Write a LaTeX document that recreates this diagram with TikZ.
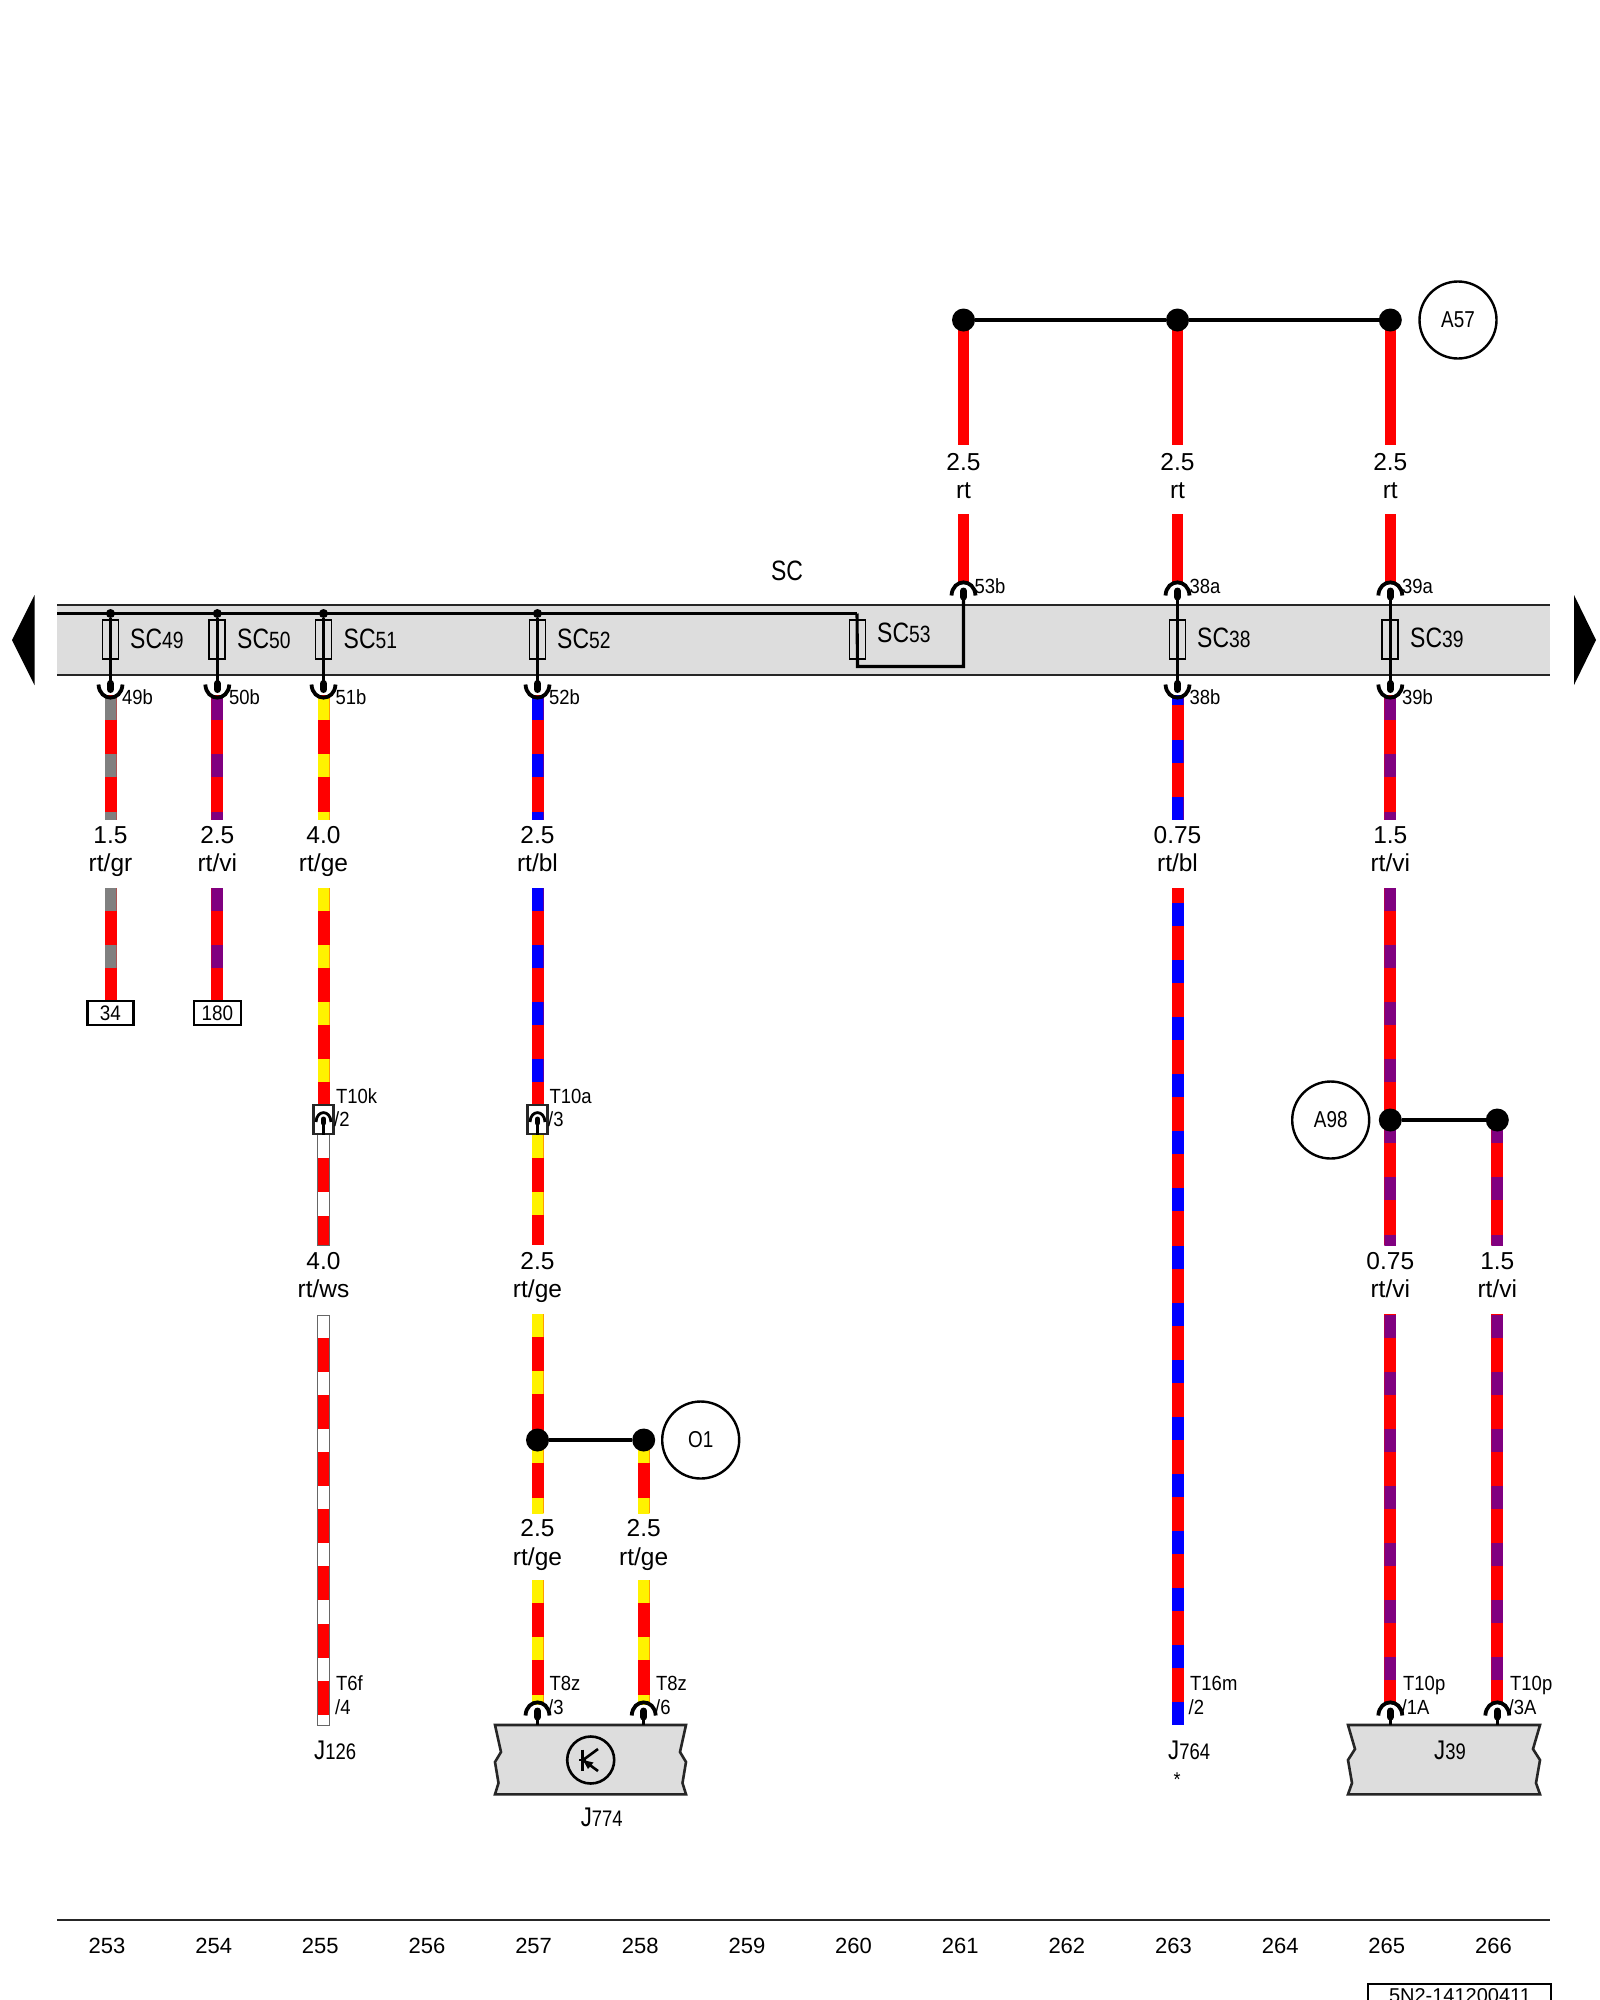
\documentclass[tikz,border=0pt]{standalone}
\usepackage{fontspec}
\setmainfont{Liberation Sans}
\newfontfamily\nf[FakeStretch=0.82]{Liberation Sans}
\newfontfamily\lf[FakeStretch=0.9]{Liberation Sans}
\newcommand{\fsz}[1]{\fontsize{#1}{#1}\selectfont}
\definecolor{barg}{HTML}{DDDDDD}
\definecolor{wvi}{HTML}{800080}
\definecolor{wgr}{HTML}{808080}
\tikzset{
  lbl/.style={inner sep=0pt,anchor=base,font=\fsz{24.5}},
  tag/.style={inner sep=0pt,anchor=base west,font=\lf\fsz{20.5}},
  sclbl/.style={inner sep=0pt,anchor=base west,font=\nf\fsz{28}},
  jlbl/.style={inner sep=0pt,anchor=base west,font=\nf\fsz{27}},
  axnum/.style={inner sep=0pt,anchor=base,font=\fsz{22}},
  fuse/.style={draw=black,line width=1.8pt,inner sep=0pt,minimum width=16pt,minimum height=39pt},
  bigdot/.style={circle,fill=black,inner sep=0pt,minimum size=23pt},
  smalldot/.style={circle,fill=black,inner sep=0pt,minimum size=9pt},
  thin wire/.style={line width=3.1pt,black},
  pinline/.style={line width=7pt,line cap=round,black},
  arcline/.style={line width=3.8pt,black},
  ringnode/.style={circle,draw=black,line width=2.4pt,fill=white,inner sep=0pt,minimum size=77pt,font=\nf\fsz{23}},
  tbox/.style={draw=black,line width=2.4pt,fill=white,inner sep=0pt,minimum height=24pt,font=\lf\fsz{21}},
  blockshape/.style={fill=barg,draw=black!85,line width=2.6pt,line join=miter},
}
\newcommand{\wire}[5]{%
  \fill[red] ({#1-6},#2) rectangle ({#1+6},#3);
  \begin{scope}
    \clip ({#1-6},#2) rectangle ({#1+6},#3);
    \foreach \s in {#5} {\fill[#4] ({#1-6},\s) rectangle ({#1+6},{\s+23});}
  \end{scope}}
\newcommand{\redwire}[3]{\fill[red] ({#1-5.5},#2) rectangle ({#1+5.5},#3);}
\newcommand{\down}[2]{% socket below the box: name, x
  \draw[arcline] ({#2-12},684.5) .. controls ({#2-11},702) and ({#2+11},702) .. ({#2+12},684.5);
  \coordinate (#1) at (#2,686);
  \draw[pinline] (#2,683.5) -- (#2,689.5);}
\newcommand{\up}[3]{% socket above: name, x, top y
  \draw[arcline] ({#2-12},{#3+13.5}) .. controls ({#2-11},{#3-4}) and ({#2+11},{#3-4}) .. ({#2+12},{#3+13.5});
  \coordinate (#1) at (#2,{#3+12});
  \draw[pinline] (#2,{#3+9}) -- (#2,{#3+15});}
\newcommand{\upsmall}[3]{% small socket inside a plug housing: name, x, top y
  \draw[line width=2.8pt,black] ({#2-7.5},{#3+10}) .. controls ({#2-7},{#3-2.5}) and ({#2+7},{#3-2.5}) .. ({#2+7.5},{#3+10});
  \coordinate (#1) at (#2,{#3+8});
  \draw[line width=5pt,line cap=round,black] (#2,{#3+7}) -- (#2,{#3+11});}
\begin{document}
\begin{tikzpicture}[x=1pt,y=-1pt]
\useasboundingbox (0,0) rectangle (1600,2000);
\clip (0,0) rectangle (1600,2000);
\fill[white] (0,0) rectangle (1600,2000);

% fuse box band
\fill[barg] (57,605) rectangle (1550,675);
\coordinate (barTL) at (57,605);
\coordinate (barTR) at (1550,605);
\coordinate (barBL) at (57,675);
\coordinate (barBR) at (1550,675);
\coordinate (busL) at (57,613.5);
\coordinate (busR) at (857,613.5);
\draw[black!85,line width=2.4pt] (barTL) -- (barTR);
\draw[black!85,line width=2.4pt] (barBL) -- (barBR);
\fill[black] (12,640) -- (34.5,595) -- (34.5,685) -- cycle;
\fill[black] (1596,640) -- (1574,595) -- (1574,685) -- cycle;
\node[inner sep=0pt,anchor=base,font=\nf\fsz{28}] (sc) at (787,580) {SC};

% wires, top group
\redwire{963.5}{320}{445}
\redwire{1177.5}{320}{445}
\redwire{1390.3}{320}{445}
\redwire{963.5}{514}{584}
\redwire{1177.5}{514}{584}
\redwire{1390.3}{514}{584}
\node[bigdot] (a1) at (963.5,320) {};
\node[bigdot] (a2) at (1177.5,320) {};
\node[bigdot] (a3) at (1390.3,320) {};
\draw[thin wire] (a1) -- (a2);
\draw[thin wire] (a2) -- (a3);
\node[ringnode] (A57) at (1458,320) {A57};
\foreach \x/\n in {963.5/t1,1177.5/t2,1390.3/t3}{
  \node[lbl] (\n a) at (\x,470) {2.5};
  \node[lbl] (\n b) at (\x,498) {rt};
}

% section 1 wires
\wire{110.5}{695}{819.5}{wgr}{697,754,811.6}
\wire{217.3}{695}{819.5}{wvi}{697,754,811.6}
\wire{323.5}{695}{819.5}{yellow}{697,754,811.6}
\wire{537.5}{695}{819.5}{blue}{697,754,811.6}
\wire{1177.5}{695}{819.5}{blue}{682,739.5,796.5}
\wire{1390.3}{695}{819.5}{wvi}{697,754,811.6}

% fuses and internal feeds
\foreach \x/\n in {110.5/f49,217.3/f50,323.5/f51,537.5/f52}{
  \node[fuse] (\n) at (\x,639.5) {};
  \node[smalldot] (\n d) at (\x,613.5) {};
  \down{\n p}{\x}
  \draw[thin wire] (\n d) -- (\n p);
}
\draw[thin wire] (busL) -- (busR);
\node[fuse] (f53) at (857.5,639.5) {};
\coordinate (c53a) at (857.5,666.5);
\coordinate (c53b) at (963.5,666.5);
\up{p53}{963.5}{582}
\draw[thin wire,line join=miter] (busR) -- (c53a) -- (c53b) -- (p53);
\foreach \x/\n in {1177.5/f38,1390.3/f39}{
  \node[fuse] (\n) at (\x,639.5) {};
  \up{\n u}{\x}{582}
  \down{\n p}{\x}
  \draw[thin wire] (\n u) -- (\n p);
}
\node[sclbl] (l49) at (130,648) {SC\fsz{23.5}49};
\node[sclbl] (l50) at (237,648) {SC\fsz{23.5}50};
\node[sclbl] (l51) at (343.5,648) {SC\fsz{23.5}51};
\node[sclbl] (l52) at (557,648) {SC\fsz{23.5}52};
\node[sclbl] (l53) at (877,642) {SC\fsz{23.5}53};
\node[sclbl] (l38) at (1197,647) {SC\fsz{23.5}38};
\node[sclbl] (l39) at (1410,647) {SC\fsz{23.5}39};
\node[tag] (s49) at (122,704) {49b};
\node[tag] (s50) at (229,704) {50b};
\node[tag] (s51) at (335.5,704) {51b};
\node[tag] (s52) at (549,704) {52b};
\node[tag] (s53) at (974.5,593) {53b};
\node[tag] (s38a) at (1189.5,593) {38a};
\node[tag] (s39a) at (1402,593) {39a};
\node[tag] (s38b) at (1189.5,704) {38b};
\node[tag] (s39b) at (1402,704) {39b};

% labels row 1
\foreach \x/\a/\b/\n in {110.5/1.5/rt\slash gr/r1,217.3/2.5/rt\slash vi/r2,323.5/4.0/rt\slash ge/r3,537.5/2.5/rt\slash bl/r4,1177.5/0.75/rt\slash bl/r5,1390.3/1.5/rt\slash vi/r6}{
  \node[lbl] (\n a) at (\x,843) {\a};
  \node[lbl] (\n b) at (\x,871) {\b};
}

% section 2 wires
\wire{110.5}{887.5}{1001}{wgr}{887.5,945}
\wire{217.3}{887.5}{1001}{wvi}{887.5,945}
\node[tbox,minimum width=46pt] (b34) at (110.5,1013) {34};
\node[tbox,minimum width=47pt] (b180) at (217.3,1013) {180};
\wire{323.5}{887.5}{1106}{yellow}{887.5,945,1002,1059}
\wire{537.5}{887.5}{1106}{blue}{887.5,945,1002,1059}
\wire{537.5}{1134}{1245}{yellow}{1135,1192}
\fill[white] (317.5,1134) rectangle (329.5,1245);
\fill[red] (317.5,1158) rectangle (329.5,1192);
\fill[red] (317.5,1215.5) rectangle (329.5,1245);
\draw[black!60,line width=.9pt] (317.5,1134) rectangle (329.5,1245);
\foreach \x/\n in {323.5/k,537.5/a}{
  \node[draw=black!85,line width=2.2pt,fill=white,inner sep=0pt,minimum width=20pt,minimum height=29pt] (box\n) at (\x,1119.5) {};
  \upsmall{u\n}{\x}{1112}
  \draw[line width=2.2pt,black] (u\n) -- (box\n.south);
}
\node[tag] (t10k) at (336,1103.5) {T10k};
\node[tag] (t10k2) at (334,1126.5) {/2};
\node[tag] (t10a) at (549.5,1103.5) {T10a};
\node[tag] (t10a2) at (548,1126.5) {/3};

% junction A98 and wires
\wire{1390.3}{887.5}{1245}{wvi}{887.5,945,1002,1059,1120,1177,1234.7}
\wire{1497.3}{1120}{1245}{wvi}{1120,1177,1234.7}
\node[bigdot] (b1) at (1390.3,1120) {};
\node[bigdot] (b2) at (1497.3,1120) {};
\draw[thin wire] (b1) -- (b2);
\node[ringnode] (A98) at (1330.7,1120) {A98};

% 263 long run
\fill[red] (1171.5,887.5) rectangle (1183.5,1725);
\foreach \k in {0,...,14}{\fill[blue] (1171.5,{902.9+57.1*\k}) rectangle (1183.5,{925.9+57.1*\k});}

% labels row 2
\foreach \x/\a/\b/\n in {323.5/4.0/rt\slash ws/q1,537.5/2.5/rt\slash ge/q2,1390.3/0.75/rt\slash vi/q3,1497.3/1.5/rt\slash vi/q4}{
  \node[lbl] (\n a) at (\x,1269.5) {\a};
  \node[lbl] (\n b) at (\x,1297.5) {\b};
}

% section 3 wires
\fill[white] (317.5,1315) rectangle (329.5,1725);
\foreach \k in {0,...,6}{\fill[red] (317.5,{1338+57.1*\k}) rectangle (329.5,{1372+57.1*\k});}
\draw[black!60,line width=.9pt] (317.5,1315) rectangle (329.5,1725);
\wire{537.5}{1314}{1513}{yellow}{1314,1371,1440,1497.5}
\wire{643.7}{1440}{1513}{yellow}{1440,1497.5}
\node[bigdot] (o1) at (537.5,1440) {};
\node[bigdot] (o2) at (643.7,1440) {};
\draw[thin wire] (o1) -- (o2);
\node[ringnode] (O1) at (700.7,1440) {O1};
\foreach \x/\n in {537.5/u1,643.7/u2}{
  \node[lbl] (\n a) at (\x,1536) {2.5};
  \node[lbl] (\n b) at (\x,1565) {rt\slash ge};
}
\wire{537.5}{1580}{1704}{yellow}{1580,1637,1695}
\wire{643.7}{1580}{1704}{yellow}{1580,1637,1695}
\wire{1390.3}{1314}{1704}{wvi}{1314.5,1371.6,1428.7,1485.8,1542.9,1600,1657.1}
\wire{1497.3}{1314}{1704}{wvi}{1314.5,1371.6,1428.7,1485.8,1542.9,1600,1657.1}

% blocks
\draw[blockshape] (495,1725) -- (686,1725) -- (680,1752) -- (686,1762) -- (682.5,1783) -- (686,1794.3) -- (495,1794.3) -- (498.5,1783) -- (495,1762) -- (501,1752) -- cycle;
\draw[blockshape] (1348,1725) -- (1540,1725) -- (1533,1749) -- (1540,1760) -- (1536,1783) -- (1540,1794.3) -- (1348,1794.3) -- (1352,1783) -- (1348,1760) -- (1355,1749) -- cycle;
\foreach \x/\n in {537.5/c1,643.7/c2,1390.3/c3,1497.3/c4}{
  \up{\n p}{\x}{1702}
  \coordinate (\n e) at (\x,1725);
  \draw[line width=2.6pt,black] (\n p) -- (\n e);
}
% relay symbol
\node[circle,draw=black,line width=2.6pt,inner sep=0pt,minimum size=47pt] (sym) at (590.7,1760) {};
\draw[line width=2.8pt] (582.3,1749.5) -- (582.3,1771);
\draw[line width=2.8pt] (579,1760) -- (586,1760);
\draw[line width=2.6pt] (583,1760) -- (598,1749);
\draw[line width=2.6pt] (583,1760) -- (598,1771);
\fill[black] (583,1760) -- (593.5,1762.5) -- (588,1769) -- cycle;

% connector labels at the bottom
\node[tag] (n1) at (336,1690.5) {T6f};
\node[tag] (n2) at (335,1714) {/4};
\node[tag] (n3) at (549.5,1690.5) {T8z};
\node[tag] (n4) at (548,1714) {/3};
\node[tag] (n5) at (656,1690.5) {T8z};
\node[tag] (n6) at (655,1714) {/6};
\node[tag] (n7) at (1190,1690.5) {T16m};
\node[tag] (n8) at (1188.5,1714) {/2};
\node[tag] (n9) at (1403,1690.5) {T10p};
\node[tag] (n10) at (1401.5,1714) {/1A};
\node[tag] (n11) at (1510,1690.5) {T10p};
\node[tag] (n12) at (1508.5,1714) {/3A};
\node[jlbl] (j126) at (314,1759) {J\fsz{22.5}126};
\node[jlbl] (j764) at (1168,1759) {J\fsz{22.5}764};
\node[jlbl] (j39) at (1434,1759) {J\fsz{22.5}39};
\node[jlbl] (j774) at (580.7,1826.5) {J\fsz{22.5}774};
\node[inner sep=0pt,anchor=base,font=\lf\fsz{20}] (star) at (1177,1786) {*};

% axis
\coordinate (axL) at (57,1920);
\coordinate (axR) at (1550,1920);
\draw[black!85,line width=2.4pt] (axL) -- (axR);
\foreach \i in {0,...,13}{
  \pgfmathtruncatemacro{\num}{253+\i}
  \node[axnum] (ax\i) at ({107+106.65*\i},1953) {\num};
}
\coordinate (cbA) at (1368,2010);
\coordinate (cbB) at (1368,1984);
\coordinate (cbC) at (1551,1984);
\coordinate (cbD) at (1551,2010);
\draw[black,line width=2.4pt] (cbA) -- (cbB) -- (cbC) -- (cbD);
\node[inner sep=0pt,anchor=base,font=\fsz{20}] (code) at (1460,2002.5) {5N2-141200411};
\end{tikzpicture}
\end{document}
